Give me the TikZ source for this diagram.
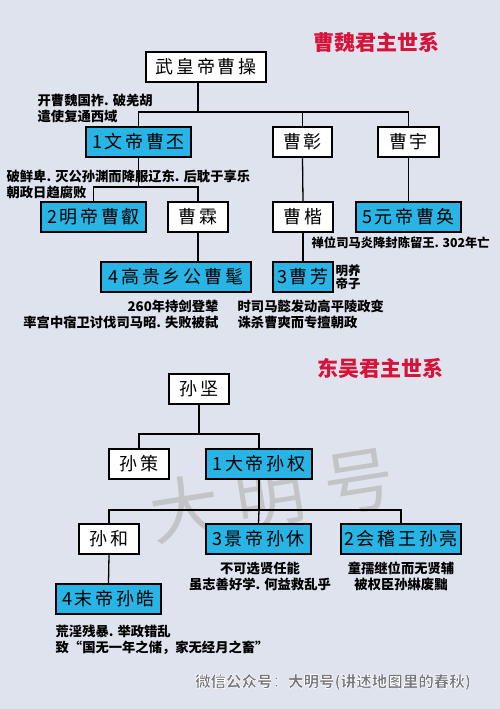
\documentclass[tikz,border=0pt]{standalone}
\usepackage{fontspec}
\setmainfont{Noto Sans CJK SC}
\newfontfamily\boxfont[LetterSpace=15]{Noto Sans CJK SC}

\definecolor{bgcol}{RGB}{222,227,238}
\definecolor{emperor}{RGB}{40,180,228}
\definecolor{titlered}{RGB}{214,20,58}
\definecolor{wmgray}{RGB}{194,196,200}
\definecolor{footgray}{RGB}{118,118,124}

% 白色描边文字
\newcommand{\outlined}[1]{\special{pdf:literal direct 2 Tr 0.6 w 1 1 1 RG}#1\special{pdf:literal direct 0 Tr}}

\begin{document}
\begin{tikzpicture}[
    x=1pt,
    y=-1pt,
    line width=1.3pt,
    person/.style={draw, line width=1.4pt, fill=white, inner sep=0pt,
        minimum height=30pt, font=\boxfont\fontsize{18}{20}\selectfont},
    ruler/.style={person, fill=emperor},
    note/.style={font=\bfseries\fontsize{13.3}{16.5}\selectfont, inner sep=0pt},
    title/.style={text=titlered, font=\bfseries\fontsize{21}{24}\selectfont},
    footer/.style={font=\bfseries\fontsize{15.5}{17}\selectfont},
    watermark/.style={text=wmgray, rotate=9, inner sep=0pt, text height=50pt,
        text depth=4pt, font=\fontsize{70}{72}\selectfont}
]

% 背景
\fill[bgcol] (0,0) rectangle (500,709);
\useasboundingbox (0,0) rectangle (500,709);

% 水印
\node[watermark] (markda) at (185,512) {大};
\node[watermark] (markming) at (270,498) {明};
\node[watermark] (markhao) at (359,484) {号};

% 标题
\node[title] (weititle) at (376,42) {曹魏君主世系};
\node[title] (wutitle) at (380,368) {东吴君主世系};

% 曹魏：第一代
\node[person, minimum width=120pt] (caocao) at (206,67) {武皇帝曹操};

% 第二代
\node[ruler, minimum width=105pt] (caopi) at (138.5,142) {1文帝曹丕};
\node[person, minimum width=59pt] (caozhang) at (302.5,142) {曹彰};
\node[person, minimum width=61pt] (caoyu) at (408.5,142) {曹宇};

% 第三代
\node[ruler, minimum width=105pt] (caorui) at (93.5,217) {2明帝曹叡};
\node[person, minimum width=60pt] (caolin) at (198,217) {曹霖};
\node[person, minimum width=60pt] (caokai) at (303,217) {曹楷};
\node[ruler, minimum width=105pt] (caohuan) at (408.5,217) {5元帝曹奂};

% 第四代
\node[ruler, minimum width=150pt] (caomao) at (176,277) {4高贵乡公曹髦};
\node[ruler, minimum width=60pt] (caofang) at (303,277) {3曹芳};

% 曹魏连线
\coordinate (weij) at (198,112);
\coordinate (pij) at (138.5,187);
\draw (caocao.south -| weij) -- (weij);
\draw (caopi.north) -- (caopi.north |- weij) -- (caoyu.north |- weij) -- (caoyu.north);
\draw (caozhang.north) -- (caozhang.north |- weij);
\draw (caopi.south) -- (pij);
\draw (caorui.north) -- (caorui.north |- pij) -- (caolin.north |- pij) -- (caolin.north);
\draw (caozhang.south) -- (caokai.north);
\draw (caoyu.south) -- (caohuan.north);
\draw (caolin.south) -- (caolin.south |- caomao.north);
\draw (caokai.south) -- (caofang.north);

% 曹魏注释
\node[note, anchor=north west, align=left] (caocaonote) at (37,93) {开曹魏国祚. 破羌胡\\遣使复通西域};
\node[note, anchor=north west, align=left] (caopinote) at (6,169) {破鲜卑. 灭公孙渊而降服辽东. 后耽于享乐\\朝政日趋腐败};
\node[note, anchor=west, font=\bfseries\fontsize{12.3}{14}\selectfont] (caohuannote) at (311,243) {禅位司马炎降封陈留王. 302年亡};
\node[note, anchor=west, align=left, font=\bfseries\fontsize{12.5}{13.5}\selectfont] (caofangnote) at (335,277) {明养\\帝子};
\node[note, anchor=north east, align=right] (caomaonote) at (219,299) {260年持剑登辇\\率宫中宿卫讨伐司马昭. 失败被弑};
\node[note, anchor=north west, align=left] (simanote) at (237,299) {时司马懿发动高平陵政变\\诛杀曹爽而专擅朝政};

% 东吴：第一代
\node[person, minimum width=60pt] (sunjian) at (199,389) {孙坚};

% 第二代
\node[person, minimum width=60pt] (functionce) at (139,464) {孙策};
\node[ruler, minimum width=106pt] (sunquan) at (259,464) {1大帝孙权};

% 第三代
\node[person, minimum width=60pt] (sunhe) at (109,539) {孙和};
\node[ruler, minimum width=105pt] (sunxiu) at (258.5,539) {3景帝孙休};
\node[ruler, minimum width=120pt] (sunliang) at (401,539) {2会稽王孙亮};

% 第四代
\node[ruler, minimum width=105pt] (sunhao) at (108.5,599) {4末帝孙皓};

% 东吴连线
\coordinate (jianj) at (199,434);
\coordinate (quanj) at (259,510);
\draw (sunjian.south) -- (jianj);
\draw (functionce.north) -- (functionce.north |- jianj) -- (sunquan.north |- jianj) -- (sunquan.north);
\draw (sunquan.south) -- (quanj);
\draw (sunhe.north) -- (sunhe.north |- quanj) -- (sunliang.north |- quanj) -- (sunliang.north);
\draw (quanj) -- (sunxiu.north);
\draw (sunhe.south) -- (sunhao.north);

% 东吴注释
\node[note, anchor=north, align=center] (sunxiunote) at (260,561) {不可选贤任能\\虽志善好学. 何益救乱乎};
\node[note, anchor=north, align=center] (sunliangnote) at (401,561) {童孺继位而无贤辅\\被权臣孙綝废黜};
\node[note, anchor=north west, align=left] (sunhaonote) at (55,624) {荒淫残暴. 举政错乱\\致“国无一年之储，家无经月之畜”};

% 署名
\node[footer, text=footgray] (sign) at (333,682) {\outlined{微信公众号：大明号(讲述地图里的春秋)}};

\end{tikzpicture}
\end{document}
